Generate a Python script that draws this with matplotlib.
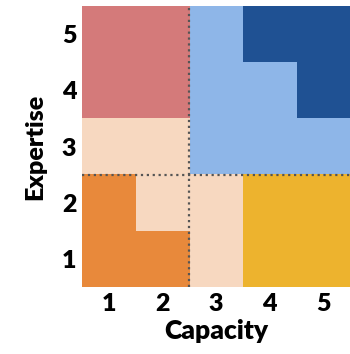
import numpy as np
import matplotlib
matplotlib.use("Agg")
from matplotlib import pyplot as plt
from matplotlib.colors import ListedColormap

plt.rcParams['font.family'] = ['Lato', 'DejaVu Sans']
plt.rcParams['font.weight'] = 'bold'

capacity = [1, 2, 3, 4, 5]
expertise = [1, 2, 3, 4, 5]
# zone of each cell, rows = expertise 1..5, cols = capacity 1..5
zones = [
    [0, 0, 1, 2, 2],
    [0, 1, 1, 2, 2],
    [1, 1, 3, 3, 3],
    [4, 4, 3, 3, 5],
    [4, 4, 3, 5, 5],
]
zone_colors = ['#E8893B', '#F7D8C0', '#EDB32E', '#8EB6E8', '#D47A7A', '#1F5193']

fig = plt.figure(figsize=(3.5, 3.54), dpi=100)
ax = fig.add_axes([0.234, 0.189, 0.766, 0.794])
ax.imshow(np.array(zones), cmap=ListedColormap(zone_colors), vmin=-0.5, vmax=5.5,
          origin='lower', extent=(0.5, 5.5, 0.5, 5.5), aspect='auto',
          interpolation='nearest')
ax.axvline(2.5, color='#555555', linestyle=':', linewidth=1.6)
ax.axhline(2.5, color='#555555', linestyle=':', linewidth=1.6)
ax.set_xlim(0.5, 5.5)
ax.set_ylim(0.5, 5.5)
ax.set_xticks(capacity)
ax.set_yticks(expertise)
ax.tick_params(length=0, labelsize=18, pad=4)
for lbl in ax.get_xticklabels() + ax.get_yticklabels():
    lbl.set_fontweight('heavy')
for s in ax.spines.values():
    s.set_visible(False)
ax.set_xlabel('Capacity', fontsize=19, fontweight='heavy', labelpad=3)
ax.set_ylabel('Expertise', fontsize=18, fontweight='heavy', labelpad=11)
fig.savefig('out.png', dpi=100)
